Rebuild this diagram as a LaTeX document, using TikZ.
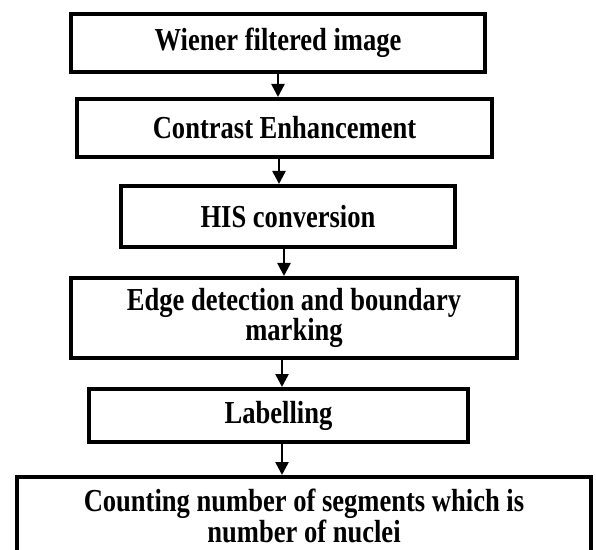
\documentclass[tikz,border=0pt]{standalone}
\usepackage{fontspec}
\setmainfont{Liberation Serif}[FakeStretch=0.83]
\usepackage{tikz}
\usetikzlibrary{positioning,
                arrows.meta}                % arrow tips

\begin{document}
\begin{tikzpicture}[x=1pt, y=1pt,
        stage/.style={draw, line width=4pt, align=center, inner sep=0pt,
                      font=\fontsize{32}{30}\selectfont\bfseries},
        flow/.style={-{Triangle[width=13pt, length=13pt]}, line width=2.5pt}]
        \useasboundingbox (0,0) rectangle (596,549);
        \clip (0,0) rectangle (596,549);

        \node[stage, minimum width=414pt, minimum height=58pt] (wiener) at (278,506) {Wiener filtered image};
        \node[stage, minimum width=415pt, minimum height=58pt] (contrast) at (284.5,421) {Contrast Enhancement};
        \node[stage, minimum width=334pt, minimum height=61pt] (his) at (288,332.5) {HIS conversion};
        \node[stage, minimum width=446pt, minimum height=80pt] (edge) at (294,231) {Edge detection and boundary\\marking};
        \node[stage, minimum width=379pt, minimum height=53pt] (label) at (278.5,133.5) {Labelling};
        \node[stage, minimum width=574pt, minimum height=78pt,
              font=\fontsize{32}{27}\selectfont\bfseries] (count) at (304,33) {Counting number of segments which is\\number of nuclei};

        % arrows sit a little off the box centres
        \coordinate (a1) at (wiener.south);
        \coordinate (a2) at ([xshift=-5.5pt]contrast.south);
        \coordinate (a3) at ([xshift=-4pt]his.south);
        \coordinate (a4) at ([xshift=-12pt]edge.south);
        \coordinate (a5) at ([xshift=3.5pt]label.south);
        \draw[flow] (a1) -- (a1 |- contrast.north);
        \draw[flow] (a2) -- (a2 |- his.north);
        \draw[flow] (a3) -- (a3 |- edge.north);
        \draw[flow] (a4) -- (a4 |- label.north);
        \draw[flow] (a5) -- (a5 |- count.north);
\end{tikzpicture}
\end{document}
